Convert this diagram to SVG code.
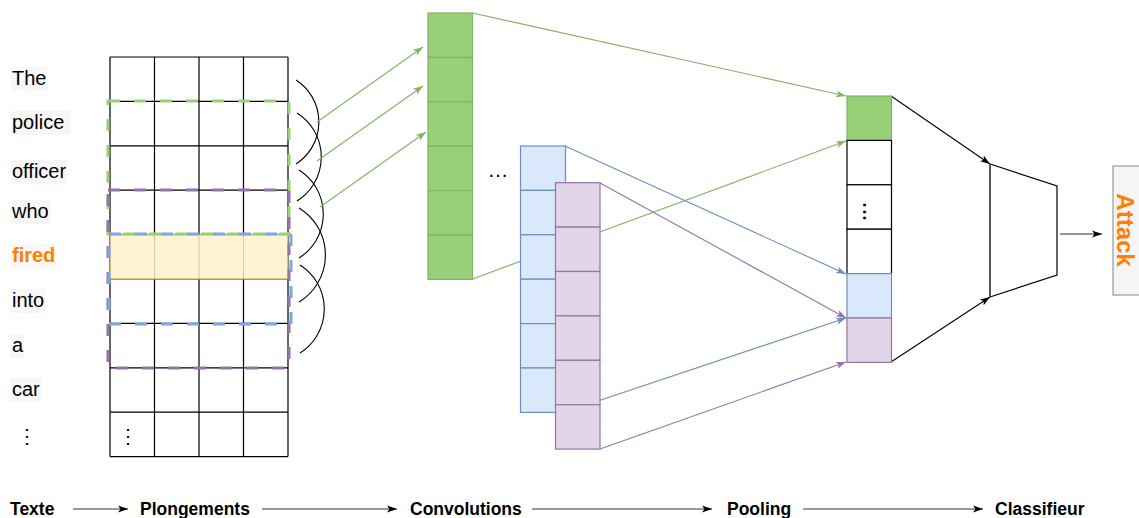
<svg xmlns="http://www.w3.org/2000/svg" width="1139" height="518" viewBox="0 0 1139 518">
<defs>
<marker id="aG" markerUnits="userSpaceOnUse" markerWidth="11" markerHeight="8" refX="10" refY="4" orient="auto"><path d="M0,0.5 L10,4 L0,7.5 L2.5,4 Z" fill="#82b366"/></marker>
<marker id="aB" markerUnits="userSpaceOnUse" markerWidth="11" markerHeight="8" refX="10" refY="4" orient="auto"><path d="M0,0.5 L10,4 L0,7.5 L2.5,4 Z" fill="#6c8ebf"/></marker>
<marker id="aP" markerUnits="userSpaceOnUse" markerWidth="11" markerHeight="8" refX="10" refY="4" orient="auto"><path d="M0,0.5 L10,4 L0,7.5 L2.5,4 Z" fill="#9673a6"/></marker>
<marker id="aK" markerUnits="userSpaceOnUse" markerWidth="11" markerHeight="8" refX="10" refY="4" orient="auto"><path d="M0,0.5 L10,4 L0,7.5 L2.5,4 Z" fill="#000"/></marker>
</defs>
<style>
.word{font-family:"Liberation Sans",Arial,sans-serif;font-size:20px;fill:#000}
.wbg{fill:#f7f7f7}
.step{font-family:"Liberation Sans",Arial,sans-serif;font-size:17.5px;font-weight:bold;fill:#000}
.grid{stroke:#000;stroke-width:1.2;fill:none}
.g{fill:#97d077;stroke:#82b366;stroke-width:1.2}
.b{fill:#dae8fc;stroke:#6c8ebf;stroke-width:1.2}
.p{fill:#e1d5e7;stroke:#9673a6;stroke-width:1.2}
.w{fill:#fff;stroke:#000;stroke-width:1.2}
.cg{stroke:#82b366;stroke-width:1.1;fill:none;marker-end:url(#aG)}
.cb{stroke:#6c8ebf;stroke-width:1.1;fill:none;marker-end:url(#aB)}
.cp{stroke:#9673a6;stroke-width:1.1;fill:none;marker-end:url(#aP)}
.ck{stroke:#000;stroke-width:1.1;fill:none;marker-end:url(#aK)}
.arc{stroke:#000;stroke-width:1.1;fill:none}
.dash{fill:none;stroke-width:3;stroke-dasharray:12 14}
</style>
<rect width="1139" height="518" fill="#fff"/>

<g id="connectors">
<path class="arc" d="M296 80 A50 50 0 0 1 296 164"/>
<path class="arc" d="M297 113 A52 52 0 0 1 297 201"/>
<path class="arc" d="M299 170 A52 52 0 0 1 299 258"/>
<path class="arc" d="M299 208 A55 55 0 0 1 299 302"/>
<path class="arc" d="M300 265 A52 52 0 0 1 300 353"/>
<line class="cg" x1="317" y1="122" x2="423" y2="47"/>
<line class="cg" x1="317" y1="161" x2="423" y2="86"/>
<line class="cg" x1="320" y1="207" x2="426" y2="132"/>
<line class="cg" x1="472.5" y1="13" x2="846" y2="96"/>
<line class="cg" x1="472.5" y1="279" x2="846" y2="141"/>
<line class="cb" x1="565" y1="146" x2="846" y2="274"/>
<line class="cb" x1="565" y1="412" x2="846" y2="318"/>
<line class="cp" x1="600" y1="183" x2="846" y2="318"/>
<line class="cp" x1="600" y1="449" x2="846" y2="362"/>
<line class="ck" x1="891" y1="96" x2="990" y2="164"/>
<line class="ck" x1="891" y1="362" x2="990" y2="297"/>
<line class="ck" x1="1060" y1="234" x2="1102" y2="234" style="stroke:#333"/>
<line class="ck" x1="73" y1="509" x2="128" y2="509" style="stroke:#333"/>
<line class="ck" x1="262" y1="509" x2="397" y2="509" style="stroke:#333"/>
<line class="ck" x1="532" y1="509" x2="712" y2="509" style="stroke:#333"/>
<line class="ck" x1="803" y1="509" x2="983" y2="509" style="stroke:#333"/>
</g>

<g id="words">
<rect class="wbg" x="11" y="67" width="36" height="24"/>
<text class="word" x="12" y="85">The</text>
<rect class="wbg" x="11" y="111" width="60" height="24"/>
<text class="word" x="12" y="129">police</text>
<rect class="wbg" x="11" y="160" width="56" height="24"/>
<text class="word" x="12" y="178">officer</text>
<rect class="wbg" x="11" y="200" width="40" height="24"/>
<text class="word" x="12" y="218">who</text>
<rect class="wbg" x="11" y="244" width="45" height="24"/>
<text class="word" x="12" y="262" style="font-weight:bold;fill:#ff8000">fired</text>
<rect class="wbg" x="11" y="289" width="34" height="24"/>
<text class="word" x="12" y="307">into</text>
<rect class="wbg" x="11" y="334" width="13" height="24"/>
<text class="word" x="12" y="352">a</text>
<rect class="wbg" x="11" y="378" width="31" height="24"/>
<text class="word" x="12" y="396">car</text>
<text class="word" x="27" y="443" text-anchor="middle">⋮</text>
</g>

<g id="embeddings">
<rect x="110" y="57" width="178" height="399.6" fill="#fff" stroke="none"/>
<path class="grid" d="M110 57 H288 M110 101.4 H288 M110 145.8 H288 M110 190.2 H288 M110 234.6 H288 M110 279 H288 M110 323.4 H288 M110 367.8 H288 M110 412.2 H288 M110 456.6 H288 M110 57 V456.6 M154.5 57 V456.6 M199 57 V456.6 M243.5 57 V456.6 M288 57 V456.6"/>
<rect x="110" y="234.6" width="178" height="44.4" fill="#fff2cc" stroke="#d6b656" opacity="0.85"/>
<text class="word" x="128" y="443" text-anchor="middle">⋮</text>
</g>

<g id="windows">
<rect class="dash" x="108" y="101" width="181" height="133" stroke="#97d077"/>
<rect class="dash" x="108" y="190" width="181" height="178" stroke="#9673a6"/>
<rect class="dash" x="109" y="234" width="182" height="90" stroke="#7ea6e0"/>
</g>

<g id="conv-green">
<rect class="g" x="428" y="13" width="44.5" height="44.4"/>
<rect class="g" x="428" y="57.4" width="44.5" height="44.4"/>
<rect class="g" x="428" y="101.8" width="44.5" height="44.4"/>
<rect class="g" x="428" y="146.2" width="44.5" height="44.4"/>
<rect class="g" x="428" y="190.6" width="44.5" height="44.4"/>
<rect class="g" x="428" y="235" width="44.5" height="44.4"/>
</g>

<g id="ellipsis">
<text class="word" x="498" y="177" text-anchor="middle" style="font-size:21px">…</text>
</g>

<g id="conv-blue">
<rect class="b" x="520.5" y="146" width="45" height="44.4"/>
<rect class="b" x="520.5" y="190.4" width="45" height="44.4"/>
<rect class="b" x="520.5" y="234.8" width="45" height="44.4"/>
<rect class="b" x="520.5" y="279.2" width="45" height="44.4"/>
<rect class="b" x="520.5" y="323.6" width="45" height="44.4"/>
<rect class="b" x="520.5" y="368" width="45" height="44.4"/>
</g>

<g id="conv-purple">
<rect class="p" x="555.5" y="182.7" width="44.5" height="44.4"/>
<rect class="p" x="555.5" y="227.1" width="44.5" height="44.4"/>
<rect class="p" x="555.5" y="271.5" width="44.5" height="44.4"/>
<rect class="p" x="555.5" y="315.9" width="44.5" height="44.4"/>
<rect class="p" x="555.5" y="360.3" width="44.5" height="44.4"/>
<rect class="p" x="555.5" y="404.7" width="44.5" height="44.4"/>
</g>

<g id="pooling">
<rect class="g" x="847" y="96" width="44.5" height="44.4"/>
<rect class="w" x="847" y="140.4" width="44.5" height="44.4"/>
<rect class="w" x="847" y="184.8" width="44.5" height="44.4"/>
<rect class="w" x="847" y="229.2" width="44.5" height="44.4"/>
<rect class="b" x="847" y="273.6" width="44.5" height="44.4"/>
<rect class="p" x="847" y="318" width="44.5" height="44.4"/>
<text class="word" x="864.5" y="218" text-anchor="middle" style="font-size:19px;font-weight:bold">⋮</text>
</g>

<g id="classifier">
<polygon points="990,164 1057,186 1057,275 990,297" fill="#fff" stroke="#000" stroke-width="1.2"/>
<line x1="990" y1="164" x2="990" y2="297" stroke="#555" stroke-width="2"/>
</g>

<g id="output">
<rect x="1113" y="166" width="40" height="129" fill="#f5f5f5" stroke="#999" stroke-width="1.2"/>
<text transform="translate(1125,230) rotate(90)" x="0" y="8.5" text-anchor="middle" style="font-family:'Liberation Sans',Arial,sans-serif;font-size:24px;font-weight:bold;fill:#ff8000">Attack</text>
</g>

<g id="steps">
<text class="step" x="10" y="515">Texte</text>
<text class="step" x="140" y="515">Plongements</text>
<text class="step" x="410" y="515">Convolutions</text>
<text class="step" x="727" y="515">Pooling</text>
<text class="step" x="995" y="515">Classifieur</text>
</g>
</svg>
